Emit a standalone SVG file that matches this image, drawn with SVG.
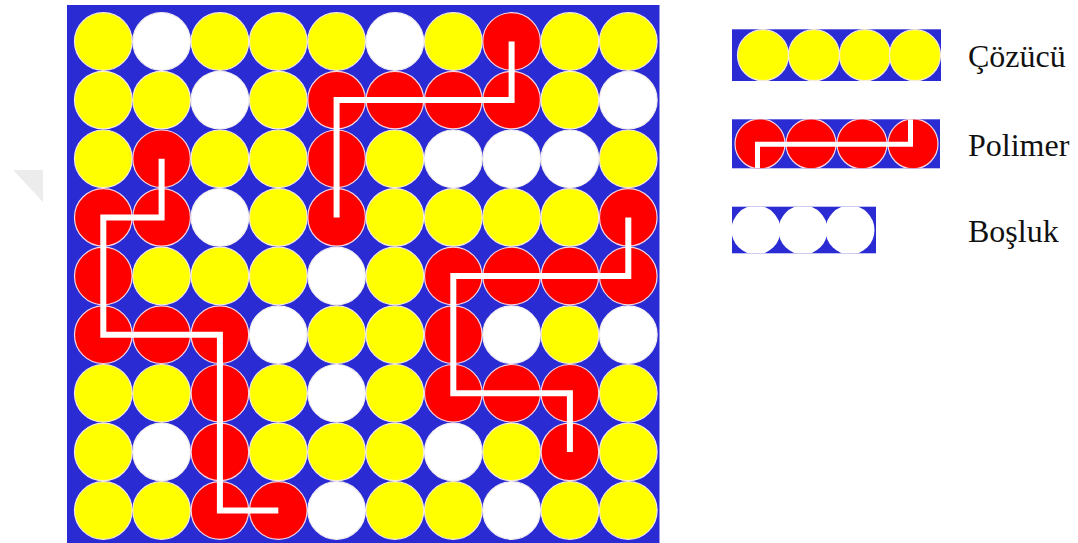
<svg xmlns="http://www.w3.org/2000/svg" width="1078" height="543" viewBox="0 0 1078 543">
<defs>
<style>
.bg{fill:#2b2bd4}
.y{fill:#ffff00;stroke:#f6ecd8;stroke-width:1.2}
.r{fill:#ff0000;stroke:#f6d6e2;stroke-width:1.2}
.w{fill:#ffffff;stroke:#f4f0f0;stroke-width:1.2}
.chain{fill:none;stroke:#ffffff;stroke-width:6;stroke-linecap:butt;stroke-linejoin:miter}
.lchain{fill:none;stroke:#ffffff;stroke-width:5;stroke-linecap:butt;stroke-linejoin:miter}
.lbl{font-family:"Liberation Serif","Times New Roman",serif;font-size:32px;fill:#111111}
</style>
<clipPath id="clipB"><rect x="732" y="206.7" width="144" height="46.6"/></clipPath>
<clipPath id="clipP"><rect x="732" y="119.3" width="208" height="49"/></clipPath>
</defs>
<rect width="1078" height="543" fill="#ffffff"/>
<polygon points="13,170 43,170 43,202" fill="#ececec"/>
<g id="lattice">
<rect class="bg" x="67" y="5" width="592.5" height="538"/>
<g id="row0">
<circle class="y" cx="103.3" cy="41.5" r="28.8"/><circle class="w" cx="161.6" cy="41.5" r="28.8"/><circle class="y" cx="219.9" cy="41.5" r="28.8"/><circle class="y" cx="278.3" cy="41.5" r="28.8"/><circle class="y" cx="336.6" cy="41.5" r="28.8"/><circle class="w" cx="394.9" cy="41.5" r="28.8"/><circle class="y" cx="453.3" cy="41.5" r="28.8"/><circle class="r" cx="511.6" cy="41.5" r="28.8"/><circle class="y" cx="569.9" cy="41.5" r="28.8"/><circle class="y" cx="628.3" cy="41.5" r="28.8"/>
</g>
<g id="row1">
<circle class="y" cx="103.3" cy="100.1" r="28.8"/><circle class="y" cx="161.6" cy="100.1" r="28.8"/><circle class="w" cx="219.9" cy="100.1" r="28.8"/><circle class="y" cx="278.3" cy="100.1" r="28.8"/><circle class="r" cx="336.6" cy="100.1" r="28.8"/><circle class="r" cx="394.9" cy="100.1" r="28.8"/><circle class="r" cx="453.3" cy="100.1" r="28.8"/><circle class="r" cx="511.6" cy="100.1" r="28.8"/><circle class="y" cx="569.9" cy="100.1" r="28.8"/><circle class="w" cx="628.3" cy="100.1" r="28.8"/>
</g>
<g id="row2">
<circle class="y" cx="103.3" cy="158.8" r="28.8"/><circle class="r" cx="161.6" cy="158.8" r="28.8"/><circle class="y" cx="219.9" cy="158.8" r="28.8"/><circle class="y" cx="278.3" cy="158.8" r="28.8"/><circle class="r" cx="336.6" cy="158.8" r="28.8"/><circle class="y" cx="394.9" cy="158.8" r="28.8"/><circle class="w" cx="453.3" cy="158.8" r="28.8"/><circle class="w" cx="511.6" cy="158.8" r="28.8"/><circle class="w" cx="569.9" cy="158.8" r="28.8"/><circle class="y" cx="628.3" cy="158.8" r="28.8"/>
</g>
<g id="row3">
<circle class="r" cx="103.3" cy="217.4" r="28.8"/><circle class="r" cx="161.6" cy="217.4" r="28.8"/><circle class="w" cx="219.9" cy="217.4" r="28.8"/><circle class="y" cx="278.3" cy="217.4" r="28.8"/><circle class="r" cx="336.6" cy="217.4" r="28.8"/><circle class="y" cx="394.9" cy="217.4" r="28.8"/><circle class="y" cx="453.3" cy="217.4" r="28.8"/><circle class="y" cx="511.6" cy="217.4" r="28.8"/><circle class="y" cx="569.9" cy="217.4" r="28.8"/><circle class="r" cx="628.3" cy="217.4" r="28.8"/>
</g>
<g id="row4">
<circle class="r" cx="103.3" cy="276" r="28.8"/><circle class="y" cx="161.6" cy="276" r="28.8"/><circle class="y" cx="219.9" cy="276" r="28.8"/><circle class="y" cx="278.3" cy="276" r="28.8"/><circle class="w" cx="336.6" cy="276" r="28.8"/><circle class="y" cx="394.9" cy="276" r="28.8"/><circle class="r" cx="453.3" cy="276" r="28.8"/><circle class="r" cx="511.6" cy="276" r="28.8"/><circle class="r" cx="569.9" cy="276" r="28.8"/><circle class="r" cx="628.3" cy="276" r="28.8"/>
</g>
<g id="row5">
<circle class="r" cx="103.3" cy="334.7" r="28.8"/><circle class="r" cx="161.6" cy="334.7" r="28.8"/><circle class="r" cx="219.9" cy="334.7" r="28.8"/><circle class="w" cx="278.3" cy="334.7" r="28.8"/><circle class="y" cx="336.6" cy="334.7" r="28.8"/><circle class="y" cx="394.9" cy="334.7" r="28.8"/><circle class="r" cx="453.3" cy="334.7" r="28.8"/><circle class="w" cx="511.6" cy="334.7" r="28.8"/><circle class="y" cx="569.9" cy="334.7" r="28.8"/><circle class="w" cx="628.3" cy="334.7" r="28.8"/>
</g>
<g id="row6">
<circle class="y" cx="103.3" cy="393.3" r="28.8"/><circle class="y" cx="161.6" cy="393.3" r="28.8"/><circle class="r" cx="219.9" cy="393.3" r="28.8"/><circle class="y" cx="278.3" cy="393.3" r="28.8"/><circle class="w" cx="336.6" cy="393.3" r="28.8"/><circle class="y" cx="394.9" cy="393.3" r="28.8"/><circle class="r" cx="453.3" cy="393.3" r="28.8"/><circle class="r" cx="511.6" cy="393.3" r="28.8"/><circle class="r" cx="569.9" cy="393.3" r="28.8"/><circle class="y" cx="628.3" cy="393.3" r="28.8"/>
</g>
<g id="row7">
<circle class="y" cx="103.3" cy="451.9" r="28.8"/><circle class="w" cx="161.6" cy="451.9" r="28.8"/><circle class="r" cx="219.9" cy="451.9" r="28.8"/><circle class="y" cx="278.3" cy="451.9" r="28.8"/><circle class="y" cx="336.6" cy="451.9" r="28.8"/><circle class="y" cx="394.9" cy="451.9" r="28.8"/><circle class="w" cx="453.3" cy="451.9" r="28.8"/><circle class="y" cx="511.6" cy="451.9" r="28.8"/><circle class="r" cx="569.9" cy="451.9" r="28.8"/><circle class="y" cx="628.3" cy="451.9" r="28.8"/>
</g>
<g id="row8">
<circle class="y" cx="103.3" cy="510.5" r="28.8"/><circle class="y" cx="161.6" cy="510.5" r="28.8"/><circle class="r" cx="219.9" cy="510.5" r="28.8"/><circle class="r" cx="278.3" cy="510.5" r="28.8"/><circle class="w" cx="336.6" cy="510.5" r="28.8"/><circle class="y" cx="394.9" cy="510.5" r="28.8"/><circle class="y" cx="453.3" cy="510.5" r="28.8"/><circle class="w" cx="511.6" cy="510.5" r="28.8"/><circle class="y" cx="569.9" cy="510.5" r="28.8"/><circle class="y" cx="628.3" cy="510.5" r="28.8"/>
</g>
</g>
<g id="chains">
<path class="chain" d="M511.6,41.5 V100.1 H336.6 V217.4"/>
<path class="chain" d="M161.6,158.8 V217.4 H103.3 V334.7 H219.9 V510.5 H278.3"/>
<path class="chain" d="M628.3,217.4 V276 H453.3 V393.3 H569.9 V451.9"/>
</g>
<g id="legend-cozucu">
<rect class="bg" x="732" y="29.3" width="209" height="51.7"/>
<circle class="y" cx="763" cy="55.2" r="25.5"/><circle class="y" cx="814" cy="55.2" r="25.5"/><circle class="y" cx="865" cy="55.2" r="25.5"/><circle class="y" cx="915" cy="55.2" r="25.5"/>
<text class="lbl" x="968" y="67">Çözücü</text>
</g>
<g id="legend-polimer">
<rect class="bg" x="732" y="119.3" width="208" height="49"/>
<g clip-path="url(#clipP)">
<circle class="r" cx="760" cy="143.8" r="25"/><circle class="r" cx="811" cy="143.8" r="25"/><circle class="r" cx="862" cy="143.8" r="25"/><circle class="r" cx="913" cy="143.8" r="25"/>
<path class="lchain" d="M757.5,168.3 V144.2 H910.5 V119.3"/>
</g>
<text class="lbl" x="968" y="156">Polimer</text>
</g>
<g id="legend-bosluk">
<rect class="bg" x="732" y="206.7" width="144" height="46.6"/>
<g clip-path="url(#clipB)">
<circle fill="#ffffff" cx="756" cy="230" r="24.5"/><circle fill="#ffffff" cx="803" cy="230" r="24.5"/><circle fill="#ffffff" cx="850" cy="230" r="24.5"/>
</g>
<text class="lbl" x="968" y="242">Boşluk</text>
</g>
</svg>
